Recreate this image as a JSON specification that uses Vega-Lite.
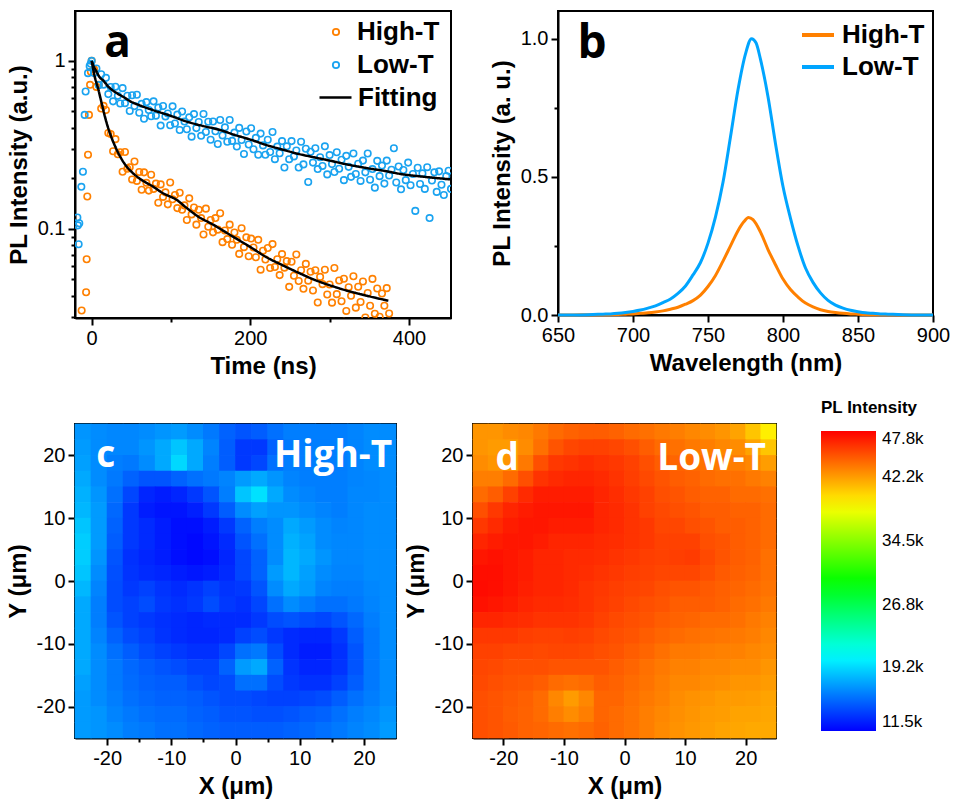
{
"$schema": "https://vega.github.io/schema/vega-lite/v6.json",
"background": "white",
"padding": {"left": 5, "top": 10, "right": 5, "bottom": 5},
"config": {
  "font": "Liberation Sans",
  "view": {"stroke": "black", "strokeWidth": 2},
  "axis": {"domainColor": "black", "domainWidth": 2, "tickColor": "black", "tickWidth": 2, "labelColor": "black", "titleColor": "black", "labelFont": "Liberation Sans", "labelFontSize": 20, "titleFont": "Liberation Sans", "titleFontSize": 24, "titleFontWeight": "bold", "grid": false, "labelPadding": 3, "titlePadding": 6, "labelFlush": false, "labelOverlap": false, "labelBound": false},
  "legend": {"padding": 0, "labelFont": "Liberation Sans", "titleFont": "Liberation Sans", "labelColor": "black", "titleColor": "black"}
},
"datasets": {
"decay": [
{"t":-12.6,"I":0.0327,"trace":"High-T"},{"t":-7,"I":0.042,"trace":"High-T"},{"t":-6.3,"I":0.066,"trace":"High-T"},{"t":-5.5,"I":0.156,"trace":"High-T"},{"t":-4.6,"I":0.276,"trace":"High-T"},{"t":-3.4,"I":0.477,"trace":"High-T"},{"t":-2,"I":0.72,"trace":"High-T"},{"t":-1,"I":0.86,"trace":"High-T"},
{"t":0,"I":1.0,"trace":"High-T"},{"t":3,"I":0.89,"trace":"High-T"},{"t":6,"I":0.70,"trace":"High-T"},{"t":9,"I":0.72,"trace":"High-T"},{"t":12,"I":0.52,"trace":"High-T"},{"t":15,"I":0.54,"trace":"High-T"},{"t":18,"I":0.51,"trace":"High-T"},{"t":21,"I":0.372,"trace":"High-T"},{"t":24,"I":0.367,"trace":"High-T"},{"t":27,"I":0.29,"trace":"High-T"},
{"t":30,"I":0.342,"trace":"High-T"},{"t":33,"I":0.278,"trace":"High-T"},{"t":36,"I":0.286,"trace":"High-T"},{"t":39,"I":0.219,"trace":"High-T"},{"t":42,"I":0.287,"trace":"High-T"},{"t":45,"I":0.228,"trace":"High-T"},{"t":48,"I":0.233,"trace":"High-T"},{"t":51,"I":0.197,"trace":"High-T"},{"t":54,"I":0.252,"trace":"High-T"},{"t":57,"I":0.193,"trace":"High-T"},
{"t":60,"I":0.218,"trace":"High-T"},{"t":63,"I":0.171,"trace":"High-T"},{"t":66,"I":0.217,"trace":"High-T"},{"t":69,"I":0.188,"trace":"High-T"},{"t":72,"I":0.169,"trace":"High-T"},{"t":75,"I":0.21,"trace":"High-T"},{"t":78,"I":0.173,"trace":"High-T"},{"t":81,"I":0.186,"trace":"High-T"},{"t":84,"I":0.143,"trace":"High-T"},{"t":87,"I":0.184,"trace":"High-T"},
{"t":90,"I":0.155,"trace":"High-T"},{"t":93,"I":0.165,"trace":"High-T"},{"t":96,"I":0.14,"trace":"High-T"},{"t":99,"I":0.189,"trace":"High-T"},{"t":102,"I":0.15,"trace":"High-T"},{"t":105,"I":0.159,"trace":"High-T"},{"t":108,"I":0.133,"trace":"High-T"},{"t":111,"I":0.164,"trace":"High-T"},{"t":114,"I":0.13,"trace":"High-T"},{"t":117,"I":0.138,"trace":"High-T"},
{"t":120,"I":0.113,"trace":"High-T"},{"t":123,"I":0.152,"trace":"High-T"},{"t":126,"I":0.122,"trace":"High-T"},{"t":129,"I":0.134,"trace":"High-T"},{"t":132,"I":0.106,"trace":"High-T"},{"t":135,"I":0.13,"trace":"High-T"},{"t":138,"I":0.116,"trace":"High-T"},{"t":141,"I":0.0927,"trace":"High-T"},{"t":144,"I":0.132,"trace":"High-T"},{"t":147,"I":0.103,"trace":"High-T"},
{"t":150,"I":0.113,"trace":"High-T"},{"t":153,"I":0.0954,"trace":"High-T"},{"t":156,"I":0.116,"trace":"High-T"},{"t":159,"I":0.099,"trace":"High-T"},{"t":162,"I":0.124,"trace":"High-T"},{"t":165,"I":0.0834,"trace":"High-T"},{"t":168,"I":0.0979,"trace":"High-T"},{"t":171,"I":0.087,"trace":"High-T"},{"t":174,"I":0.106,"trace":"High-T"},{"t":177,"I":0.0805,"trace":"High-T"},
{"t":180,"I":0.0952,"trace":"High-T"},{"t":183,"I":0.0861,"trace":"High-T"},{"t":186,"I":0.071,"trace":"High-T"},{"t":189,"I":0.101,"trace":"High-T"},{"t":192,"I":0.0779,"trace":"High-T"},{"t":195,"I":0.0891,"trace":"High-T"},{"t":198,"I":0.0687,"trace":"High-T"},{"t":201,"I":0.0876,"trace":"High-T"},{"t":204,"I":0.0775,"trace":"High-T"},{"t":207,"I":0.0678,"trace":"High-T"},
{"t":210,"I":0.0861,"trace":"High-T"},{"t":213,"I":0.0572,"trace":"High-T"},{"t":216,"I":0.0742,"trace":"High-T"},{"t":219,"I":0.0658,"trace":"High-T"},{"t":222,"I":0.077,"trace":"High-T"},{"t":225,"I":0.0585,"trace":"High-T"},{"t":228,"I":0.0812,"trace":"High-T"},{"t":231,"I":0.0593,"trace":"High-T"},{"t":234,"I":0.066,"trace":"High-T"},{"t":237,"I":0.0531,"trace":"High-T"},
{"t":240,"I":0.0708,"trace":"High-T"},{"t":243,"I":0.0588,"trace":"High-T"},{"t":246,"I":0.0643,"trace":"High-T"},{"t":249,"I":0.0452,"trace":"High-T"},{"t":252,"I":0.0638,"trace":"High-T"},{"t":255,"I":0.0526,"trace":"High-T"},{"t":258,"I":0.0704,"trace":"High-T"},{"t":261,"I":0.049,"trace":"High-T"},{"t":264,"I":0.0567,"trace":"High-T"},{"t":267,"I":0.044,"trace":"High-T"},
{"t":270,"I":0.0619,"trace":"High-T"},{"t":273,"I":0.0492,"trace":"High-T"},{"t":276,"I":0.0556,"trace":"High-T"},{"t":279,"I":0.043,"trace":"High-T"},{"t":282,"I":0.0567,"trace":"High-T"},{"t":285,"I":0.0365,"trace":"High-T"},{"t":288,"I":0.0518,"trace":"High-T"},{"t":291,"I":0.0469,"trace":"High-T"},{"t":294,"I":0.0571,"trace":"High-T"},{"t":297,"I":0.0407,"trace":"High-T"},
{"t":300,"I":0.0467,"trace":"High-T"},{"t":303,"I":0.0364,"trace":"High-T"},{"t":306,"I":0.0585,"trace":"High-T"},{"t":309,"I":0.0409,"trace":"High-T"},{"t":312,"I":0.0493,"trace":"High-T"},{"t":315,"I":0.0371,"trace":"High-T"},{"t":318,"I":0.0505,"trace":"High-T"},{"t":321,"I":0.0325,"trace":"High-T"},{"t":324,"I":0.045,"trace":"High-T"},{"t":327,"I":0.04,"trace":"High-T"},
{"t":330,"I":0.0523,"trace":"High-T"},{"t":333,"I":0.034,"trace":"High-T"},{"t":336,"I":0.0453,"trace":"High-T"},{"t":339,"I":0.0367,"trace":"High-T"},{"t":342,"I":0.0486,"trace":"High-T"},{"t":345,"I":0.0297,"trace":"High-T"},{"t":348,"I":0.0416,"trace":"High-T"},{"t":351,"I":0.0349,"trace":"High-T"},{"t":354,"I":0.0504,"trace":"High-T"},{"t":357,"I":0.0313,"trace":"High-T"},
{"t":360,"I":0.0442,"trace":"High-T"},{"t":363,"I":0.03,"trace":"High-T"},{"t":366,"I":0.0413,"trace":"High-T"},{"t":369,"I":0.0349,"trace":"High-T"},{"t":372,"I":0.0444,"trace":"High-T"},{"t":375,"I":0.0314,"trace":"High-T"},
{"t":318,"I":0.028,"trace":"High-T"},{"t":331,"I":0.027,"trace":"High-T"},{"t":350,"I":0.028,"trace":"High-T"},{"t":365,"I":0.027,"trace":"High-T"},
{"t":-18,"I":0.117,"trace":"Low-T"},{"t":-17.3,"I":0.105,"trace":"Low-T"},{"t":-16.4,"I":0.081,"trace":"Low-T"},{"t":-15.6,"I":0.108,"trace":"Low-T"},{"t":-13,"I":0.178,"trace":"Low-T"},{"t":-11,"I":0.219,"trace":"Low-T"},{"t":-8.8,"I":0.477,"trace":"Low-T"},{"t":-7.6,"I":0.657,"trace":"Low-T"},{"t":-4.6,"I":0.845,"trace":"Low-T"},{"t":-2.5,"I":0.93,"trace":"Low-T"},{"t":-1.2,"I":0.96,"trace":"Low-T"},
{"t":0,"I":1.0,"trace":"Low-T"},{"t":3,"I":0.846,"trace":"Low-T"},{"t":6,"I":0.9,"trace":"Low-T"},{"t":9,"I":0.717,"trace":"Low-T"},{"t":12,"I":0.832,"trace":"Low-T"},{"t":15,"I":0.722,"trace":"Low-T"},{"t":18,"I":0.792,"trace":"Low-T"},{"t":21,"I":0.634,"trace":"Low-T"},{"t":24,"I":0.699,"trace":"Low-T"},{"t":27,"I":0.574,"trace":"Low-T"},
{"t":30,"I":0.702,"trace":"Low-T"},{"t":33,"I":0.619,"trace":"Low-T"},{"t":36,"I":0.557,"trace":"Low-T"},{"t":39,"I":0.688,"trace":"Low-T"},{"t":42,"I":0.56,"trace":"Low-T"},{"t":45,"I":0.62,"trace":"Low-T"},{"t":48,"I":0.503,"trace":"Low-T"},{"t":51,"I":0.624,"trace":"Low-T"},{"t":54,"I":0.538,"trace":"Low-T"},{"t":57,"I":0.629,"trace":"Low-T"},
{"t":60,"I":0.491,"trace":"Low-T"},{"t":63,"I":0.555,"trace":"Low-T"},{"t":66,"I":0.452,"trace":"Low-T"},{"t":69,"I":0.568,"trace":"Low-T"},{"t":72,"I":0.51,"trace":"Low-T"},{"t":75,"I":0.468,"trace":"Low-T"},{"t":78,"I":0.574,"trace":"Low-T"},{"t":81,"I":0.472,"trace":"Low-T"},{"t":84,"I":0.527,"trace":"Low-T"},{"t":87,"I":0.412,"trace":"Low-T"},
{"t":90,"I":0.539,"trace":"Low-T"},{"t":93,"I":0.467,"trace":"Low-T"},{"t":96,"I":0.486,"trace":"Low-T"},{"t":99,"I":0.414,"trace":"Low-T"},{"t":102,"I":0.536,"trace":"Low-T"},{"t":105,"I":0.424,"trace":"Low-T"},{"t":108,"I":0.479,"trace":"Low-T"},{"t":111,"I":0.388,"trace":"Low-T"},{"t":114,"I":0.5,"trace":"Low-T"},{"t":117,"I":0.436,"trace":"Low-T"},
{"t":120,"I":0.392,"trace":"Low-T"},{"t":123,"I":0.461,"trace":"Low-T"},{"t":126,"I":0.354,"trace":"Low-T"},{"t":129,"I":0.482,"trace":"Low-T"},{"t":132,"I":0.398,"trace":"Low-T"},{"t":135,"I":0.433,"trace":"Low-T"},{"t":138,"I":0.358,"trace":"Low-T"},{"t":141,"I":0.483,"trace":"Low-T"},{"t":144,"I":0.377,"trace":"Low-T"},{"t":147,"I":0.434,"trace":"Low-T"},
{"t":150,"I":0.339,"trace":"Low-T"},{"t":153,"I":0.436,"trace":"Low-T"},{"t":156,"I":0.381,"trace":"Low-T"},{"t":159,"I":0.32,"trace":"Low-T"},{"t":162,"I":0.445,"trace":"Low-T"},{"t":165,"I":0.36,"trace":"Low-T"},{"t":168,"I":0.402,"trace":"Low-T"},{"t":171,"I":0.33,"trace":"Low-T"},{"t":174,"I":0.445,"trace":"Low-T"},{"t":177,"I":0.334,"trace":"Low-T"},
{"t":180,"I":0.374,"trace":"Low-T"},{"t":183,"I":0.309,"trace":"Low-T"},{"t":186,"I":0.399,"trace":"Low-T"},{"t":189,"I":0.338,"trace":"Low-T"},{"t":192,"I":0.279,"trace":"Low-T"},{"t":195,"I":0.38,"trace":"Low-T"},{"t":198,"I":0.318,"trace":"Low-T"},{"t":201,"I":0.397,"trace":"Low-T"},{"t":204,"I":0.298,"trace":"Low-T"},{"t":207,"I":0.348,"trace":"Low-T"},
{"t":210,"I":0.276,"trace":"Low-T"},{"t":213,"I":0.369,"trace":"Low-T"},{"t":216,"I":0.314,"trace":"Low-T"},{"t":219,"I":0.276,"trace":"Low-T"},{"t":222,"I":0.339,"trace":"Low-T"},{"t":225,"I":0.287,"trace":"Low-T"},{"t":228,"I":0.377,"trace":"Low-T"},{"t":231,"I":0.26,"trace":"Low-T"},{"t":234,"I":0.309,"trace":"Low-T"},{"t":237,"I":0.282,"trace":"Low-T"},
{"t":240,"I":0.333,"trace":"Low-T"},{"t":243,"I":0.232,"trace":"Low-T"},{"t":246,"I":0.31,"trace":"Low-T"},{"t":249,"I":0.26,"trace":"Low-T"},{"t":252,"I":0.333,"trace":"Low-T"},{"t":255,"I":0.27,"trace":"Low-T"},{"t":258,"I":0.293,"trace":"Low-T"},{"t":261,"I":0.232,"trace":"Low-T"},{"t":264,"I":0.33,"trace":"Low-T"},{"t":267,"I":0.242,"trace":"Low-T"},
{"t":270,"I":0.3,"trace":"Low-T"},{"t":273,"I":0.19,"trace":"Low-T"},{"t":276,"I":0.288,"trace":"Low-T"},{"t":279,"I":0.248,"trace":"Low-T"},{"t":282,"I":0.302,"trace":"Low-T"},{"t":285,"I":0.227,"trace":"Low-T"},{"t":288,"I":0.267,"trace":"Low-T"},{"t":291,"I":0.237,"trace":"Low-T"},{"t":294,"I":0.31,"trace":"Low-T"},{"t":297,"I":0.211,"trace":"Low-T"},
{"t":300,"I":0.275,"trace":"Low-T"},{"t":303,"I":0.243,"trace":"Low-T"},{"t":306,"I":0.218,"trace":"Low-T"},{"t":309,"I":0.286,"trace":"Low-T"},{"t":312,"I":0.228,"trace":"Low-T"},{"t":315,"I":0.258,"trace":"Low-T"},{"t":318,"I":0.195,"trace":"Low-T"},{"t":321,"I":0.272,"trace":"Low-T"},{"t":324,"I":0.234,"trace":"Low-T"},{"t":327,"I":0.204,"trace":"Low-T"},
{"t":330,"I":0.281,"trace":"Low-T"},{"t":333,"I":0.212,"trace":"Low-T"},{"t":336,"I":0.244,"trace":"Low-T"},{"t":339,"I":0.193,"trace":"Low-T"},{"t":342,"I":0.255,"trace":"Low-T"},{"t":345,"I":0.217,"trace":"Low-T"},{"t":348,"I":0.281,"trace":"Low-T"},{"t":351,"I":0.196,"trace":"Low-T"},{"t":354,"I":0.227,"trace":"Low-T"},{"t":357,"I":0.176,"trace":"Low-T"},
{"t":360,"I":0.254,"trace":"Low-T"},{"t":363,"I":0.206,"trace":"Low-T"},{"t":366,"I":0.238,"trace":"Low-T"},{"t":369,"I":0.186,"trace":"Low-T"},{"t":372,"I":0.255,"trace":"Low-T"},{"t":375,"I":0.208,"trace":"Low-T"},{"t":378,"I":0.225,"trace":"Low-T"},{"t":381,"I":0.302,"trace":"Low-T"},{"t":384,"I":0.189,"trace":"Low-T"},{"t":387,"I":0.235,"trace":"Low-T"},
{"t":390,"I":0.172,"trace":"Low-T"},{"t":393,"I":0.224,"trace":"Low-T"},{"t":396,"I":0.195,"trace":"Low-T"},{"t":399,"I":0.248,"trace":"Low-T"},{"t":402,"I":0.182,"trace":"Low-T"},{"t":405,"I":0.212,"trace":"Low-T"},{"t":408,"I":0.128,"trace":"Low-T"},{"t":411,"I":0.231,"trace":"Low-T"},{"t":414,"I":0.185,"trace":"Low-T"},{"t":417,"I":0.214,"trace":"Low-T"},
{"t":420,"I":0.173,"trace":"Low-T"},{"t":423,"I":0.233,"trace":"Low-T"},{"t":426,"I":0.116,"trace":"Low-T"},{"t":429,"I":0.194,"trace":"Low-T"},{"t":432,"I":0.217,"trace":"Low-T"},{"t":435,"I":0.166,"trace":"Low-T"},{"t":438,"I":0.22,"trace":"Low-T"},{"t":441,"I":0.183,"trace":"Low-T"},{"t":444,"I":0.159,"trace":"Low-T"},{"t":447,"I":0.206,"trace":"Low-T"},
{"t":450,"I":0.222,"trace":"Low-T"},{"t":453,"I":0.173,"trace":"Low-T"}
],
"fit": [
{"t":0,"I":1.0,"trace":"Fitting","curve":"H"},{"t":2,"I":0.89,"trace":"Fitting","curve":"H"},{"t":4,"I":0.8,"trace":"Fitting","curve":"H"},{"t":6,"I":0.74,"trace":"Fitting","curve":"H"},{"t":8,"I":0.69,"trace":"Fitting","curve":"H"},{"t":10,"I":0.63,"trace":"Fitting","curve":"H"},{"t":13,"I":0.55,"trace":"Fitting","curve":"H"},{"t":16,"I":0.48,"trace":"Fitting","curve":"H"},{"t":20,"I":0.41,"trace":"Fitting","curve":"H"},{"t":25,"I":0.35,"trace":"Fitting","curve":"H"},{"t":31,"I":0.30,"trace":"Fitting","curve":"H"},{"t":40,"I":0.25,"trace":"Fitting","curve":"H"},{"t":48,"I":0.224,"trace":"Fitting","curve":"H"},{"t":60,"I":0.2,"trace":"Fitting","curve":"H"},{"t":77,"I":0.179,"trace":"Fitting","curve":"H"},{"t":90,"I":0.163,"trace":"Fitting","curve":"H"},{"t":107,"I":0.149,"trace":"Fitting","curve":"H"},{"t":120,"I":0.133,"trace":"Fitting","curve":"H"},{"t":136,"I":0.117,"trace":"Fitting","curve":"H"},{"t":150,"I":0.108,"trace":"Fitting","curve":"H"},{"t":178,"I":0.09,"trace":"Fitting","curve":"H"},{"t":200,"I":0.078,"trace":"Fitting","curve":"H"},{"t":220,"I":0.068,"trace":"Fitting","curve":"H"},{"t":240,"I":0.061,"trace":"Fitting","curve":"H"},{"t":262,"I":0.0545,"trace":"Fitting","curve":"H"},{"t":280,"I":0.05,"trace":"Fitting","curve":"H"},{"t":305,"I":0.0454,"trace":"Fitting","curve":"H"},{"t":325,"I":0.0425,"trace":"Fitting","curve":"H"},{"t":347,"I":0.04,"trace":"Fitting","curve":"H"},{"t":374,"I":0.0374,"trace":"Fitting","curve":"H"},
{"t":0,"I":1.0,"trace":"Fitting","curve":"L"},{"t":3,"I":0.92,"trace":"Fitting","curve":"L"},{"t":6,"I":0.865,"trace":"Fitting","curve":"L"},{"t":10,"I":0.80,"trace":"Fitting","curve":"L"},{"t":15,"I":0.76,"trace":"Fitting","curve":"L"},{"t":20,"I":0.71,"trace":"Fitting","curve":"L"},{"t":30,"I":0.65,"trace":"Fitting","curve":"L"},{"t":40,"I":0.61,"trace":"Fitting","curve":"L"},{"t":50,"I":0.57,"trace":"Fitting","curve":"L"},{"t":60,"I":0.545,"trace":"Fitting","curve":"L"},{"t":77,"I":0.51,"trace":"Fitting","curve":"L"},{"t":100,"I":0.47,"trace":"Fitting","curve":"L"},{"t":120,"I":0.435,"trace":"Fitting","curve":"L"},{"t":140,"I":0.41,"trace":"Fitting","curve":"L"},{"t":160,"I":0.39,"trace":"Fitting","curve":"L"},{"t":180,"I":0.363,"trace":"Fitting","curve":"L"},{"t":200,"I":0.34,"trace":"Fitting","curve":"L"},{"t":220,"I":0.316,"trace":"Fitting","curve":"L"},{"t":240,"I":0.297,"trace":"Fitting","curve":"L"},{"t":260,"I":0.28,"trace":"Fitting","curve":"L"},{"t":280,"I":0.267,"trace":"Fitting","curve":"L"},{"t":300,"I":0.255,"trace":"Fitting","curve":"L"},{"t":320,"I":0.243,"trace":"Fitting","curve":"L"},{"t":347,"I":0.23,"trace":"Fitting","curve":"L"},{"t":370,"I":0.221,"trace":"Fitting","curve":"L"},{"t":390,"I":0.212,"trace":"Fitting","curve":"L"},{"t":420,"I":0.204,"trace":"Fitting","curve":"L"},{"t":453,"I":0.197,"trace":"Fitting","curve":"L"}
],
"spec": [
{"nm":650,"PL":0,"sample":"High-T"},{"nm":660,"PL":0,"sample":"High-T"},{"nm":670,"PL":0.001,"sample":"High-T"},{"nm":680,"PL":0.001,"sample":"High-T"},{"nm":690,"PL":0.002,"sample":"High-T"},{"nm":695,"PL":0.003,"sample":"High-T"},{"nm":700,"PL":0.004,"sample":"High-T"},{"nm":705,"PL":0.006,"sample":"High-T"},{"nm":710,"PL":0.008,"sample":"High-T"},{"nm":715,"PL":0.011,"sample":"High-T"},{"nm":720,"PL":0.015,"sample":"High-T"},{"nm":725,"PL":0.021,"sample":"High-T"},{"nm":730,"PL":0.028,"sample":"High-T"},{"nm":735,"PL":0.039,"sample":"High-T"},{"nm":740,"PL":0.052,"sample":"High-T"},{"nm":745,"PL":0.072,"sample":"High-T"},{"nm":750,"PL":0.103,"sample":"High-T"},{"nm":755,"PL":0.143,"sample":"High-T"},{"nm":760,"PL":0.195,"sample":"High-T"},{"nm":765,"PL":0.25,"sample":"High-T"},{"nm":770,"PL":0.305,"sample":"High-T"},{"nm":774,"PL":0.338,"sample":"High-T"},{"nm":777,"PL":0.353,"sample":"High-T"},{"nm":780,"PL":0.345,"sample":"High-T"},{"nm":785,"PL":0.3,"sample":"High-T"},{"nm":790,"PL":0.237,"sample":"High-T"},{"nm":795,"PL":0.182,"sample":"High-T"},{"nm":800,"PL":0.13,"sample":"High-T"},{"nm":805,"PL":0.092,"sample":"High-T"},{"nm":810,"PL":0.065,"sample":"High-T"},{"nm":815,"PL":0.043,"sample":"High-T"},{"nm":820,"PL":0.029,"sample":"High-T"},{"nm":825,"PL":0.019,"sample":"High-T"},{"nm":830,"PL":0.013,"sample":"High-T"},{"nm":835,"PL":0.009,"sample":"High-T"},{"nm":840,"PL":0.006,"sample":"High-T"},{"nm":845,"PL":0.004,"sample":"High-T"},{"nm":850,"PL":0.003,"sample":"High-T"},{"nm":860,"PL":0.001,"sample":"High-T"},{"nm":870,"PL":0.001,"sample":"High-T"},{"nm":880,"PL":0,"sample":"High-T"},{"nm":890,"PL":0,"sample":"High-T"},{"nm":900,"PL":0,"sample":"High-T"},
{"nm":650,"PL":0,"sample":"Low-T"},{"nm":660,"PL":0,"sample":"Low-T"},{"nm":670,"PL":0.001,"sample":"Low-T"},{"nm":680,"PL":0.003,"sample":"Low-T"},{"nm":685,"PL":0.004,"sample":"Low-T"},{"nm":690,"PL":0.006,"sample":"Low-T"},{"nm":695,"PL":0.009,"sample":"Low-T"},{"nm":700,"PL":0.013,"sample":"Low-T"},{"nm":705,"PL":0.018,"sample":"Low-T"},{"nm":710,"PL":0.025,"sample":"Low-T"},{"nm":715,"PL":0.033,"sample":"Low-T"},{"nm":720,"PL":0.045,"sample":"Low-T"},{"nm":725,"PL":0.058,"sample":"Low-T"},{"nm":730,"PL":0.078,"sample":"Low-T"},{"nm":735,"PL":0.105,"sample":"Low-T"},{"nm":740,"PL":0.145,"sample":"Low-T"},{"nm":745,"PL":0.19,"sample":"Low-T"},{"nm":750,"PL":0.26,"sample":"Low-T"},{"nm":755,"PL":0.355,"sample":"Low-T"},{"nm":760,"PL":0.48,"sample":"Low-T"},{"nm":765,"PL":0.645,"sample":"Low-T"},{"nm":770,"PL":0.815,"sample":"Low-T"},{"nm":775,"PL":0.945,"sample":"Low-T"},{"nm":779,"PL":1.0,"sample":"Low-T"},{"nm":782,"PL":0.985,"sample":"Low-T"},{"nm":785,"PL":0.925,"sample":"Low-T"},{"nm":790,"PL":0.79,"sample":"Low-T"},{"nm":795,"PL":0.62,"sample":"Low-T"},{"nm":800,"PL":0.465,"sample":"Low-T"},{"nm":805,"PL":0.35,"sample":"Low-T"},{"nm":810,"PL":0.25,"sample":"Low-T"},{"nm":815,"PL":0.17,"sample":"Low-T"},{"nm":820,"PL":0.118,"sample":"Low-T"},{"nm":825,"PL":0.08,"sample":"Low-T"},{"nm":830,"PL":0.053,"sample":"Low-T"},{"nm":835,"PL":0.036,"sample":"Low-T"},{"nm":840,"PL":0.025,"sample":"Low-T"},{"nm":845,"PL":0.017,"sample":"Low-T"},{"nm":850,"PL":0.012,"sample":"Low-T"},{"nm":855,"PL":0.008,"sample":"Low-T"},{"nm":860,"PL":0.006,"sample":"Low-T"},{"nm":865,"PL":0.004,"sample":"Low-T"},{"nm":870,"PL":0.003,"sample":"Low-T"},{"nm":880,"PL":0.001,"sample":"Low-T"},{"nm":890,"PL":0,"sample":"Low-T"},{"nm":900,"PL":0,"sample":"Low-T"}
],
"mapHigh": [
{"x":-23.75,"y":23.75,"v":16.8},{"x":-21.25,"y":23.75,"v":16.5},{"x":-18.75,"y":23.75,"v":16.3},{"x":-16.25,"y":23.75,"v":16.3},{"x":-13.75,"y":23.75,"v":16.5},{"x":-11.25,"y":23.75,"v":16.8},{"x":-8.75,"y":23.75,"v":17.0},{"x":-6.25,"y":23.75,"v":16.5},{"x":-3.75,"y":23.75,"v":15.8},{"x":-1.25,"y":23.75,"v":15.0},{"x":1.25,"y":23.75,"v":14.5},{"x":3.75,"y":23.75,"v":14.8},{"x":6.25,"y":23.75,"v":15.5},{"x":8.75,"y":23.75,"v":16.0},{"x":11.25,"y":23.75,"v":16.0},{"x":13.75,"y":23.75,"v":16.0},{"x":16.25,"y":23.75,"v":16.0},{"x":18.75,"y":23.75,"v":16.2},{"x":21.25,"y":23.75,"v":16.5},{"x":23.75,"y":23.75,"v":16.5},
{"x":-23.75,"y":21.25,"v":17.0},{"x":-21.25,"y":21.25,"v":16.5},{"x":-18.75,"y":21.25,"v":16.3},{"x":-16.25,"y":21.25,"v":16.3},{"x":-13.75,"y":21.25,"v":16.8},{"x":-11.25,"y":21.25,"v":17.5},{"x":-8.75,"y":21.25,"v":18.5},{"x":-6.25,"y":21.25,"v":17.5},{"x":-3.75,"y":21.25,"v":16.2},{"x":-1.25,"y":21.25,"v":14.8},{"x":1.25,"y":21.25,"v":13.5},{"x":3.75,"y":21.25,"v":13.5},{"x":6.25,"y":21.25,"v":15.0},{"x":8.75,"y":21.25,"v":15.8},{"x":11.25,"y":21.25,"v":16.0},{"x":13.75,"y":21.25,"v":16.0},{"x":16.25,"y":21.25,"v":16.0},{"x":18.75,"y":21.25,"v":16.2},{"x":21.25,"y":21.25,"v":16.5},{"x":23.75,"y":21.25,"v":16.5},
{"x":-23.75,"y":18.75,"v":17.2},{"x":-21.25,"y":18.75,"v":16.5},{"x":-18.75,"y":18.75,"v":16.0},{"x":-16.25,"y":18.75,"v":15.8},{"x":-13.75,"y":18.75,"v":16.5},{"x":-11.25,"y":18.75,"v":17.5},{"x":-8.75,"y":18.75,"v":19.2},{"x":-6.25,"y":18.75,"v":17.5},{"x":-3.75,"y":18.75,"v":16.0},{"x":-1.25,"y":18.75,"v":14.8},{"x":1.25,"y":18.75,"v":13.5},{"x":3.75,"y":18.75,"v":14.0},{"x":6.25,"y":18.75,"v":15.5},{"x":8.75,"y":18.75,"v":16.0},{"x":11.25,"y":18.75,"v":16.0},{"x":13.75,"y":18.75,"v":16.0},{"x":16.25,"y":18.75,"v":16.0},{"x":18.75,"y":18.75,"v":16.2},{"x":21.25,"y":18.75,"v":16.5},{"x":23.75,"y":18.75,"v":16.5},
{"x":-23.75,"y":16.25,"v":17.5},{"x":-21.25,"y":16.25,"v":16.5},{"x":-18.75,"y":16.25,"v":15.8},{"x":-16.25,"y":16.25,"v":15.0},{"x":-13.75,"y":16.25,"v":14.5},{"x":-11.25,"y":16.25,"v":14.5},{"x":-8.75,"y":16.25,"v":15.0},{"x":-6.25,"y":16.25,"v":15.5},{"x":-3.75,"y":16.25,"v":15.8},{"x":-1.25,"y":16.25,"v":16.2},{"x":1.25,"y":16.25,"v":17.0},{"x":3.75,"y":16.25,"v":17.5},{"x":6.25,"y":16.25,"v":16.8},{"x":8.75,"y":16.25,"v":16.2},{"x":11.25,"y":16.25,"v":16.0},{"x":13.75,"y":16.25,"v":16.0},{"x":16.25,"y":16.25,"v":16.0},{"x":18.75,"y":16.25,"v":16.2},{"x":21.25,"y":16.25,"v":16.3},{"x":23.75,"y":16.25,"v":16.5},
{"x":-23.75,"y":13.75,"v":17.8},{"x":-21.25,"y":13.75,"v":16.8},{"x":-18.75,"y":13.75,"v":15.5},{"x":-16.25,"y":13.75,"v":14.0},{"x":-13.75,"y":13.75,"v":12.8},{"x":-11.25,"y":13.75,"v":12.5},{"x":-8.75,"y":13.75,"v":12.8},{"x":-6.25,"y":13.75,"v":13.5},{"x":-3.75,"y":13.75,"v":14.5},{"x":-1.25,"y":13.75,"v":16.0},{"x":1.25,"y":13.75,"v":18.5},{"x":3.75,"y":13.75,"v":19.5},{"x":6.25,"y":13.75,"v":17.5},{"x":8.75,"y":13.75,"v":16.5},{"x":11.25,"y":13.75,"v":16.2},{"x":13.75,"y":13.75,"v":16.0},{"x":16.25,"y":13.75,"v":16.0},{"x":18.75,"y":13.75,"v":16.3},{"x":21.25,"y":13.75,"v":16.3},{"x":23.75,"y":13.75,"v":16.5},
{"x":-23.75,"y":11.25,"v":18.0},{"x":-21.25,"y":11.25,"v":17.0},{"x":-18.75,"y":11.25,"v":15.2},{"x":-16.25,"y":11.25,"v":13.5},{"x":-13.75,"y":11.25,"v":12.5},{"x":-11.25,"y":11.25,"v":12.2},{"x":-8.75,"y":11.25,"v":12.2},{"x":-6.25,"y":11.25,"v":12.6},{"x":-3.75,"y":11.25,"v":13.5},{"x":-1.25,"y":11.25,"v":14.8},{"x":1.25,"y":11.25,"v":16.5},{"x":3.75,"y":11.25,"v":17.2},{"x":6.25,"y":11.25,"v":16.8},{"x":8.75,"y":11.25,"v":16.8},{"x":11.25,"y":11.25,"v":16.5},{"x":13.75,"y":11.25,"v":16.2},{"x":16.25,"y":11.25,"v":16.0},{"x":18.75,"y":11.25,"v":16.3},{"x":21.25,"y":11.25,"v":16.5},{"x":23.75,"y":11.25,"v":16.5},
{"x":-23.75,"y":8.75,"v":18.5},{"x":-21.25,"y":8.75,"v":17.0},{"x":-18.75,"y":8.75,"v":15.0},{"x":-16.25,"y":8.75,"v":13.5},{"x":-13.75,"y":8.75,"v":13.0},{"x":-11.25,"y":8.75,"v":12.5},{"x":-8.75,"y":8.75,"v":12.0},{"x":-6.25,"y":8.75,"v":12.0},{"x":-3.75,"y":8.75,"v":12.5},{"x":-1.25,"y":8.75,"v":13.5},{"x":1.25,"y":8.75,"v":15.0},{"x":3.75,"y":8.75,"v":16.0},{"x":6.25,"y":8.75,"v":16.5},{"x":8.75,"y":8.75,"v":17.5},{"x":11.25,"y":8.75,"v":17.0},{"x":13.75,"y":8.75,"v":16.5},{"x":16.25,"y":8.75,"v":16.2},{"x":18.75,"y":8.75,"v":16.3},{"x":21.25,"y":8.75,"v":16.5},{"x":23.75,"y":8.75,"v":16.5},
{"x":-23.75,"y":6.25,"v":18.8},{"x":-21.25,"y":6.25,"v":17.0},{"x":-18.75,"y":6.25,"v":14.8},{"x":-16.25,"y":6.25,"v":13.5},{"x":-13.75,"y":6.25,"v":13.0},{"x":-11.25,"y":6.25,"v":12.5},{"x":-8.75,"y":6.25,"v":12.0},{"x":-6.25,"y":6.25,"v":11.8},{"x":-3.75,"y":6.25,"v":12.2},{"x":-1.25,"y":6.25,"v":13.0},{"x":1.25,"y":6.25,"v":14.5},{"x":3.75,"y":6.25,"v":15.5},{"x":6.25,"y":6.25,"v":16.5},{"x":8.75,"y":6.25,"v":17.8},{"x":11.25,"y":6.25,"v":17.3},{"x":13.75,"y":6.25,"v":16.5},{"x":16.25,"y":6.25,"v":16.3},{"x":18.75,"y":6.25,"v":16.3},{"x":21.25,"y":6.25,"v":16.5},{"x":23.75,"y":6.25,"v":16.5},
{"x":-23.75,"y":3.75,"v":18.8},{"x":-21.25,"y":3.75,"v":16.8},{"x":-18.75,"y":3.75,"v":14.5},{"x":-16.25,"y":3.75,"v":13.2},{"x":-13.75,"y":3.75,"v":12.8},{"x":-11.25,"y":3.75,"v":12.5},{"x":-8.75,"y":3.75,"v":12.0},{"x":-6.25,"y":3.75,"v":11.8},{"x":-3.75,"y":3.75,"v":12.0},{"x":-1.25,"y":3.75,"v":12.8},{"x":1.25,"y":3.75,"v":14.0},{"x":3.75,"y":3.75,"v":15.0},{"x":6.25,"y":3.75,"v":16.5},{"x":8.75,"y":3.75,"v":18.0},{"x":11.25,"y":3.75,"v":17.5},{"x":13.75,"y":3.75,"v":16.8},{"x":16.25,"y":3.75,"v":16.3},{"x":18.75,"y":3.75,"v":16.3},{"x":21.25,"y":3.75,"v":16.5},{"x":23.75,"y":3.75,"v":16.5},
{"x":-23.75,"y":1.25,"v":18.5},{"x":-21.25,"y":1.25,"v":16.5},{"x":-18.75,"y":1.25,"v":14.3},{"x":-16.25,"y":1.25,"v":13.3},{"x":-13.75,"y":1.25,"v":13.0},{"x":-11.25,"y":1.25,"v":12.8},{"x":-8.75,"y":1.25,"v":12.5},{"x":-6.25,"y":1.25,"v":12.3},{"x":-3.75,"y":1.25,"v":12.5},{"x":-1.25,"y":1.25,"v":13.0},{"x":1.25,"y":1.25,"v":14.0},{"x":3.75,"y":1.25,"v":15.0},{"x":6.25,"y":1.25,"v":17.0},{"x":8.75,"y":1.25,"v":18.0},{"x":11.25,"y":1.25,"v":17.2},{"x":13.75,"y":1.25,"v":16.5},{"x":16.25,"y":1.25,"v":16.2},{"x":18.75,"y":1.25,"v":16.2},{"x":21.25,"y":1.25,"v":16.5},{"x":23.75,"y":1.25,"v":16.5},
{"x":-23.75,"y":-1.25,"v":18.0},{"x":-21.25,"y":-1.25,"v":16.2},{"x":-18.75,"y":-1.25,"v":14.2},{"x":-16.25,"y":-1.25,"v":13.5},{"x":-13.75,"y":-1.25,"v":13.8},{"x":-11.25,"y":-1.25,"v":13.3},{"x":-8.75,"y":-1.25,"v":13.0},{"x":-6.25,"y":-1.25,"v":13.3},{"x":-3.75,"y":-1.25,"v":13.8},{"x":-1.25,"y":-1.25,"v":13.3},{"x":1.25,"y":-1.25,"v":13.5},{"x":3.75,"y":-1.25,"v":14.5},{"x":6.25,"y":-1.25,"v":16.5},{"x":8.75,"y":-1.25,"v":17.5},{"x":11.25,"y":-1.25,"v":17.0},{"x":13.75,"y":-1.25,"v":16.2},{"x":16.25,"y":-1.25,"v":16.0},{"x":18.75,"y":-1.25,"v":16.0},{"x":21.25,"y":-1.25,"v":16.3},{"x":23.75,"y":-1.25,"v":16.5},
{"x":-23.75,"y":-3.75,"v":17.5},{"x":-21.25,"y":-3.75,"v":16.0},{"x":-18.75,"y":-3.75,"v":14.2},{"x":-16.25,"y":-3.75,"v":13.8},{"x":-13.75,"y":-3.75,"v":14.2},{"x":-11.25,"y":-3.75,"v":13.5},{"x":-8.75,"y":-3.75,"v":13.2},{"x":-6.25,"y":-3.75,"v":13.5},{"x":-3.75,"y":-3.75,"v":14.2},{"x":-1.25,"y":-3.75,"v":13.5},{"x":1.25,"y":-3.75,"v":13.2},{"x":3.75,"y":-3.75,"v":14.0},{"x":6.25,"y":-3.75,"v":15.5},{"x":8.75,"y":-3.75,"v":16.5},{"x":11.25,"y":-3.75,"v":16.0},{"x":13.75,"y":-3.75,"v":15.5},{"x":16.25,"y":-3.75,"v":15.5},{"x":18.75,"y":-3.75,"v":15.8},{"x":21.25,"y":-3.75,"v":16.2},{"x":23.75,"y":-3.75,"v":16.5},
{"x":-23.75,"y":-6.25,"v":17.5},{"x":-21.25,"y":-6.25,"v":16.0},{"x":-18.75,"y":-6.25,"v":14.5},{"x":-16.25,"y":-6.25,"v":13.8},{"x":-13.75,"y":-6.25,"v":13.5},{"x":-11.25,"y":-6.25,"v":13.2},{"x":-8.75,"y":-6.25,"v":13.0},{"x":-6.25,"y":-6.25,"v":12.8},{"x":-3.75,"y":-6.25,"v":13.0},{"x":-1.25,"y":-6.25,"v":13.0},{"x":1.25,"y":-6.25,"v":13.0},{"x":3.75,"y":-6.25,"v":13.5},{"x":6.25,"y":-6.25,"v":14.2},{"x":8.75,"y":-6.25,"v":14.5},{"x":11.25,"y":-6.25,"v":14.2},{"x":13.75,"y":-6.25,"v":14.0},{"x":16.25,"y":-6.25,"v":14.5},{"x":18.75,"y":-6.25,"v":15.2},{"x":21.25,"y":-6.25,"v":16.0},{"x":23.75,"y":-6.25,"v":16.5},
{"x":-23.75,"y":-8.75,"v":17.5},{"x":-21.25,"y":-8.75,"v":16.2},{"x":-18.75,"y":-8.75,"v":15.0},{"x":-16.25,"y":-8.75,"v":14.2},{"x":-13.75,"y":-8.75,"v":13.8},{"x":-11.25,"y":-8.75,"v":13.3},{"x":-8.75,"y":-8.75,"v":13.0},{"x":-6.25,"y":-8.75,"v":12.8},{"x":-3.75,"y":-8.75,"v":12.8},{"x":-1.25,"y":-8.75,"v":13.0},{"x":1.25,"y":-8.75,"v":13.8},{"x":3.75,"y":-8.75,"v":14.2},{"x":6.25,"y":-8.75,"v":13.5},{"x":8.75,"y":-8.75,"v":13.0},{"x":11.25,"y":-8.75,"v":12.8},{"x":13.75,"y":-8.75,"v":12.8},{"x":16.25,"y":-8.75,"v":13.5},{"x":18.75,"y":-8.75,"v":14.8},{"x":21.25,"y":-8.75,"v":15.8},{"x":23.75,"y":-8.75,"v":16.5},
{"x":-23.75,"y":-11.25,"v":17.5},{"x":-21.25,"y":-11.25,"v":16.5},{"x":-18.75,"y":-11.25,"v":15.5},{"x":-16.25,"y":-11.25,"v":14.8},{"x":-13.75,"y":-11.25,"v":14.2},{"x":-11.25,"y":-11.25,"v":13.8},{"x":-8.75,"y":-11.25,"v":13.5},{"x":-6.25,"y":-11.25,"v":13.2},{"x":-3.75,"y":-11.25,"v":13.2},{"x":-1.25,"y":-11.25,"v":14.0},{"x":1.25,"y":-11.25,"v":15.5},{"x":3.75,"y":-11.25,"v":15.8},{"x":6.25,"y":-11.25,"v":14.2},{"x":8.75,"y":-11.25,"v":13.0},{"x":11.25,"y":-11.25,"v":12.5},{"x":13.75,"y":-11.25,"v":12.5},{"x":16.25,"y":-11.25,"v":13.2},{"x":18.75,"y":-11.25,"v":14.5},{"x":21.25,"y":-11.25,"v":15.8},{"x":23.75,"y":-11.25,"v":16.5},
{"x":-23.75,"y":-13.75,"v":17.5},{"x":-21.25,"y":-13.75,"v":16.5},{"x":-18.75,"y":-13.75,"v":15.8},{"x":-16.25,"y":-13.75,"v":15.2},{"x":-13.75,"y":-13.75,"v":14.8},{"x":-11.25,"y":-13.75,"v":14.5},{"x":-8.75,"y":-13.75,"v":14.2},{"x":-6.25,"y":-13.75,"v":13.8},{"x":-3.75,"y":-13.75,"v":13.8},{"x":-1.25,"y":-13.75,"v":15.0},{"x":1.25,"y":-13.75,"v":17.0},{"x":3.75,"y":-13.75,"v":17.5},{"x":6.25,"y":-13.75,"v":15.0},{"x":8.75,"y":-13.75,"v":13.3},{"x":11.25,"y":-13.75,"v":12.8},{"x":13.75,"y":-13.75,"v":12.8},{"x":16.25,"y":-13.75,"v":13.3},{"x":18.75,"y":-13.75,"v":14.5},{"x":21.25,"y":-13.75,"v":15.8},{"x":23.75,"y":-13.75,"v":16.5},
{"x":-23.75,"y":-16.25,"v":17.2},{"x":-21.25,"y":-16.25,"v":16.5},{"x":-18.75,"y":-16.25,"v":15.8},{"x":-16.25,"y":-16.25,"v":15.3},{"x":-13.75,"y":-16.25,"v":15.0},{"x":-11.25,"y":-16.25,"v":14.8},{"x":-8.75,"y":-16.25,"v":14.8},{"x":-6.25,"y":-16.25,"v":14.3},{"x":-3.75,"y":-16.25,"v":14.0},{"x":-1.25,"y":-16.25,"v":14.2},{"x":1.25,"y":-16.25,"v":15.5},{"x":3.75,"y":-16.25,"v":15.5},{"x":6.25,"y":-16.25,"v":14.2},{"x":8.75,"y":-16.25,"v":13.5},{"x":11.25,"y":-16.25,"v":13.2},{"x":13.75,"y":-16.25,"v":13.2},{"x":16.25,"y":-16.25,"v":13.8},{"x":18.75,"y":-16.25,"v":14.8},{"x":21.25,"y":-16.25,"v":15.8},{"x":23.75,"y":-16.25,"v":16.5},
{"x":-23.75,"y":-18.75,"v":17.0},{"x":-21.25,"y":-18.75,"v":16.5},{"x":-18.75,"y":-18.75,"v":16.0},{"x":-16.25,"y":-18.75,"v":15.5},{"x":-13.75,"y":-18.75,"v":15.2},{"x":-11.25,"y":-18.75,"v":15.0},{"x":-8.75,"y":-18.75,"v":15.0},{"x":-6.25,"y":-18.75,"v":14.8},{"x":-3.75,"y":-18.75,"v":14.5},{"x":-1.25,"y":-18.75,"v":14.2},{"x":1.25,"y":-18.75,"v":14.2},{"x":3.75,"y":-18.75,"v":14.0},{"x":6.25,"y":-18.75,"v":13.8},{"x":8.75,"y":-18.75,"v":13.8},{"x":11.25,"y":-18.75,"v":14.0},{"x":13.75,"y":-18.75,"v":14.2},{"x":16.25,"y":-18.75,"v":14.8},{"x":18.75,"y":-18.75,"v":15.5},{"x":21.25,"y":-18.75,"v":16.0},{"x":23.75,"y":-18.75,"v":16.5},
{"x":-23.75,"y":-21.25,"v":17.0},{"x":-21.25,"y":-21.25,"v":16.8},{"x":-18.75,"y":-21.25,"v":16.2},{"x":-16.25,"y":-21.25,"v":15.8},{"x":-13.75,"y":-21.25,"v":15.5},{"x":-11.25,"y":-21.25,"v":15.3},{"x":-8.75,"y":-21.25,"v":15.3},{"x":-6.25,"y":-21.25,"v":15.0},{"x":-3.75,"y":-21.25,"v":14.8},{"x":-1.25,"y":-21.25,"v":14.5},{"x":1.25,"y":-21.25,"v":14.5},{"x":3.75,"y":-21.25,"v":14.3},{"x":6.25,"y":-21.25,"v":14.3},{"x":8.75,"y":-21.25,"v":14.5},{"x":11.25,"y":-21.25,"v":14.8},{"x":13.75,"y":-21.25,"v":15.0},{"x":16.25,"y":-21.25,"v":15.5},{"x":18.75,"y":-21.25,"v":16.0},{"x":21.25,"y":-21.25,"v":16.3},{"x":23.75,"y":-21.25,"v":16.8},
{"x":-23.75,"y":-23.75,"v":17.0},{"x":-21.25,"y":-23.75,"v":16.8},{"x":-18.75,"y":-23.75,"v":16.5},{"x":-16.25,"y":-23.75,"v":16.0},{"x":-13.75,"y":-23.75,"v":15.8},{"x":-11.25,"y":-23.75,"v":15.5},{"x":-8.75,"y":-23.75,"v":15.5},{"x":-6.25,"y":-23.75,"v":15.2},{"x":-3.75,"y":-23.75,"v":15.0},{"x":-1.25,"y":-23.75,"v":14.8},{"x":1.25,"y":-23.75,"v":14.8},{"x":3.75,"y":-23.75,"v":14.8},{"x":6.25,"y":-23.75,"v":14.8},{"x":8.75,"y":-23.75,"v":15.0},{"x":11.25,"y":-23.75,"v":15.2},{"x":13.75,"y":-23.75,"v":15.5},{"x":16.25,"y":-23.75,"v":15.8},{"x":18.75,"y":-23.75,"v":16.2},{"x":21.25,"y":-23.75,"v":16.5},{"x":23.75,"y":-23.75,"v":17.0}
],
"mapLow": [
{"x":-23.75,"y":23.75,"v":42.5},{"x":-21.25,"y":23.75,"v":42.5},{"x":-18.75,"y":23.75,"v":42.8},{"x":-16.25,"y":23.75,"v":43.0},{"x":-13.75,"y":23.75,"v":43.5},{"x":-11.25,"y":23.75,"v":44.0},{"x":-8.75,"y":23.75,"v":44.3},{"x":-6.25,"y":23.75,"v":44.5},{"x":-3.75,"y":23.75,"v":44.5},{"x":-1.25,"y":23.75,"v":44.3},{"x":1.25,"y":23.75,"v":44.0},{"x":3.75,"y":23.75,"v":43.8},{"x":6.25,"y":23.75,"v":43.5},{"x":8.75,"y":23.75,"v":43.3},{"x":11.25,"y":23.75,"v":43.0},{"x":13.75,"y":23.75,"v":42.8},{"x":16.25,"y":23.75,"v":42.5},{"x":18.75,"y":23.75,"v":42.0},{"x":21.25,"y":23.75,"v":40.8},{"x":23.75,"y":23.75,"v":39.3},
{"x":-23.75,"y":21.25,"v":42.5},{"x":-21.25,"y":21.25,"v":42.3},{"x":-18.75,"y":21.25,"v":42.3},{"x":-16.25,"y":21.25,"v":42.8},{"x":-13.75,"y":21.25,"v":43.8},{"x":-11.25,"y":21.25,"v":44.8},{"x":-8.75,"y":21.25,"v":45.3},{"x":-6.25,"y":21.25,"v":45.5},{"x":-3.75,"y":21.25,"v":45.5},{"x":-1.25,"y":21.25,"v":45.3},{"x":1.25,"y":21.25,"v":45.0},{"x":3.75,"y":21.25,"v":44.5},{"x":6.25,"y":21.25,"v":44.0},{"x":8.75,"y":21.25,"v":43.8},{"x":11.25,"y":21.25,"v":43.5},{"x":13.75,"y":21.25,"v":43.3},{"x":16.25,"y":21.25,"v":43.0},{"x":18.75,"y":21.25,"v":42.8},{"x":21.25,"y":21.25,"v":42.0},{"x":23.75,"y":21.25,"v":40.8},
{"x":-23.75,"y":18.75,"v":42.8},{"x":-21.25,"y":18.75,"v":42.5},{"x":-18.75,"y":18.75,"v":42.5},{"x":-16.25,"y":18.75,"v":43.5},{"x":-13.75,"y":18.75,"v":45.0},{"x":-11.25,"y":18.75,"v":45.8},{"x":-8.75,"y":18.75,"v":46.0},{"x":-6.25,"y":18.75,"v":46.2},{"x":-3.75,"y":18.75,"v":46.0},{"x":-1.25,"y":18.75,"v":45.8},{"x":1.25,"y":18.75,"v":45.5},{"x":3.75,"y":18.75,"v":45.0},{"x":6.25,"y":18.75,"v":44.5},{"x":8.75,"y":18.75,"v":44.2},{"x":11.25,"y":18.75,"v":44.0},{"x":13.75,"y":18.75,"v":43.8},{"x":16.25,"y":18.75,"v":43.5},{"x":18.75,"y":18.75,"v":43.3},{"x":21.25,"y":18.75,"v":43.0},{"x":23.75,"y":18.75,"v":42.2},
{"x":-23.75,"y":16.25,"v":43.3},{"x":-21.25,"y":16.25,"v":43.3},{"x":-18.75,"y":16.25,"v":44.0},{"x":-16.25,"y":16.25,"v":45.0},{"x":-13.75,"y":16.25,"v":46.0},{"x":-11.25,"y":16.25,"v":46.3},{"x":-8.75,"y":16.25,"v":46.5},{"x":-6.25,"y":16.25,"v":46.5},{"x":-3.75,"y":16.25,"v":46.3},{"x":-1.25,"y":16.25,"v":46.0},{"x":1.25,"y":16.25,"v":45.6},{"x":3.75,"y":16.25,"v":45.2},{"x":6.25,"y":16.25,"v":44.8},{"x":8.75,"y":16.25,"v":44.5},{"x":11.25,"y":16.25,"v":44.3},{"x":13.75,"y":16.25,"v":44.0},{"x":16.25,"y":16.25,"v":43.8},{"x":18.75,"y":16.25,"v":43.8},{"x":21.25,"y":16.25,"v":43.5},{"x":23.75,"y":16.25,"v":43.2},
{"x":-23.75,"y":13.75,"v":44.0},{"x":-21.25,"y":13.75,"v":44.5},{"x":-18.75,"y":13.75,"v":45.5},{"x":-16.25,"y":13.75,"v":46.3},{"x":-13.75,"y":13.75,"v":46.8},{"x":-11.25,"y":13.75,"v":46.8},{"x":-8.75,"y":13.75,"v":46.8},{"x":-6.25,"y":13.75,"v":46.8},{"x":-3.75,"y":13.75,"v":46.5},{"x":-1.25,"y":13.75,"v":46.2},{"x":1.25,"y":13.75,"v":45.8},{"x":3.75,"y":13.75,"v":45.5},{"x":6.25,"y":13.75,"v":45.0},{"x":8.75,"y":13.75,"v":44.8},{"x":11.25,"y":13.75,"v":44.5},{"x":13.75,"y":13.75,"v":44.3},{"x":16.25,"y":13.75,"v":44.3},{"x":18.75,"y":13.75,"v":44.0},{"x":21.25,"y":13.75,"v":44.0},{"x":23.75,"y":13.75,"v":43.8},
{"x":-23.75,"y":11.25,"v":45.0},{"x":-21.25,"y":11.25,"v":45.8},{"x":-18.75,"y":11.25,"v":46.5},{"x":-16.25,"y":11.25,"v":46.8},{"x":-13.75,"y":11.25,"v":47.0},{"x":-11.25,"y":11.25,"v":47.0},{"x":-8.75,"y":11.25,"v":47.0},{"x":-6.25,"y":11.25,"v":47.0},{"x":-3.75,"y":11.25,"v":46.5},{"x":-1.25,"y":11.25,"v":46.3},{"x":1.25,"y":11.25,"v":46.0},{"x":3.75,"y":11.25,"v":45.5},{"x":6.25,"y":11.25,"v":45.2},{"x":8.75,"y":11.25,"v":45.0},{"x":11.25,"y":11.25,"v":44.8},{"x":13.75,"y":11.25,"v":44.5},{"x":16.25,"y":11.25,"v":44.5},{"x":18.75,"y":11.25,"v":44.3},{"x":21.25,"y":11.25,"v":44.3},{"x":23.75,"y":11.25,"v":44.0},
{"x":-23.75,"y":8.75,"v":45.8},{"x":-21.25,"y":8.75,"v":46.3},{"x":-18.75,"y":8.75,"v":46.8},{"x":-16.25,"y":8.75,"v":47.0},{"x":-13.75,"y":8.75,"v":47.0},{"x":-11.25,"y":8.75,"v":46.8},{"x":-8.75,"y":8.75,"v":46.8},{"x":-6.25,"y":8.75,"v":46.8},{"x":-3.75,"y":8.75,"v":46.5},{"x":-1.25,"y":8.75,"v":46.3},{"x":1.25,"y":8.75,"v":46.0},{"x":3.75,"y":8.75,"v":45.8},{"x":6.25,"y":8.75,"v":45.3},{"x":8.75,"y":8.75,"v":45.3},{"x":11.25,"y":8.75,"v":45.0},{"x":13.75,"y":8.75,"v":44.8},{"x":16.25,"y":8.75,"v":44.5},{"x":18.75,"y":8.75,"v":44.5},{"x":21.25,"y":8.75,"v":44.3},{"x":23.75,"y":8.75,"v":44.0},
{"x":-23.75,"y":6.25,"v":46.5},{"x":-21.25,"y":6.25,"v":46.8},{"x":-18.75,"y":6.25,"v":47.0},{"x":-16.25,"y":6.25,"v":47.0},{"x":-13.75,"y":6.25,"v":46.8},{"x":-11.25,"y":6.25,"v":46.5},{"x":-8.75,"y":6.25,"v":46.5},{"x":-6.25,"y":6.25,"v":46.5},{"x":-3.75,"y":6.25,"v":46.3},{"x":-1.25,"y":6.25,"v":46.2},{"x":1.25,"y":6.25,"v":46.0},{"x":3.75,"y":6.25,"v":45.8},{"x":6.25,"y":6.25,"v":45.5},{"x":8.75,"y":6.25,"v":45.5},{"x":11.25,"y":6.25,"v":45.5},{"x":13.75,"y":6.25,"v":45.0},{"x":16.25,"y":6.25,"v":44.8},{"x":18.75,"y":6.25,"v":44.5},{"x":21.25,"y":6.25,"v":44.3},{"x":23.75,"y":6.25,"v":44.0},
{"x":-23.75,"y":3.75,"v":47.0},{"x":-21.25,"y":3.75,"v":47.2},{"x":-18.75,"y":3.75,"v":47.0},{"x":-16.25,"y":3.75,"v":46.8},{"x":-13.75,"y":3.75,"v":46.5},{"x":-11.25,"y":3.75,"v":46.5},{"x":-8.75,"y":3.75,"v":46.3},{"x":-6.25,"y":3.75,"v":46.3},{"x":-3.75,"y":3.75,"v":46.2},{"x":-1.25,"y":3.75,"v":46.0},{"x":1.25,"y":3.75,"v":45.8},{"x":3.75,"y":3.75,"v":45.6},{"x":6.25,"y":3.75,"v":45.5},{"x":8.75,"y":3.75,"v":45.6},{"x":11.25,"y":3.75,"v":45.7},{"x":13.75,"y":3.75,"v":45.2},{"x":16.25,"y":3.75,"v":44.8},{"x":18.75,"y":3.75,"v":44.5},{"x":21.25,"y":3.75,"v":44.3},{"x":23.75,"y":3.75,"v":43.8},
{"x":-23.75,"y":1.25,"v":47.3},{"x":-21.25,"y":1.25,"v":47.3},{"x":-18.75,"y":1.25,"v":47.0},{"x":-16.25,"y":1.25,"v":46.8},{"x":-13.75,"y":1.25,"v":46.5},{"x":-11.25,"y":1.25,"v":46.5},{"x":-8.75,"y":1.25,"v":46.3},{"x":-6.25,"y":1.25,"v":46.2},{"x":-3.75,"y":1.25,"v":46.0},{"x":-1.25,"y":1.25,"v":45.8},{"x":1.25,"y":1.25,"v":45.6},{"x":3.75,"y":1.25,"v":45.5},{"x":6.25,"y":1.25,"v":45.3},{"x":8.75,"y":1.25,"v":45.3},{"x":11.25,"y":1.25,"v":45.3},{"x":13.75,"y":1.25,"v":45.0},{"x":16.25,"y":1.25,"v":44.6},{"x":18.75,"y":1.25,"v":44.4},{"x":21.25,"y":1.25,"v":44.2},{"x":23.75,"y":1.25,"v":43.8},
{"x":-23.75,"y":-1.25,"v":47.4},{"x":-21.25,"y":-1.25,"v":47.3},{"x":-18.75,"y":-1.25,"v":47.0},{"x":-16.25,"y":-1.25,"v":46.7},{"x":-13.75,"y":-1.25,"v":46.5},{"x":-11.25,"y":-1.25,"v":46.5},{"x":-8.75,"y":-1.25,"v":46.3},{"x":-6.25,"y":-1.25,"v":46.0},{"x":-3.75,"y":-1.25,"v":45.8},{"x":-1.25,"y":-1.25,"v":45.6},{"x":1.25,"y":-1.25,"v":45.4},{"x":3.75,"y":-1.25,"v":45.3},{"x":6.25,"y":-1.25,"v":45.0},{"x":8.75,"y":-1.25,"v":44.8},{"x":11.25,"y":-1.25,"v":44.8},{"x":13.75,"y":-1.25,"v":44.6},{"x":16.25,"y":-1.25,"v":44.4},{"x":18.75,"y":-1.25,"v":44.2},{"x":21.25,"y":-1.25,"v":44.0},{"x":23.75,"y":-1.25,"v":43.7},
{"x":-23.75,"y":-3.75,"v":47.2},{"x":-21.25,"y":-3.75,"v":47.0},{"x":-18.75,"y":-3.75,"v":46.8},{"x":-16.25,"y":-3.75,"v":46.5},{"x":-13.75,"y":-3.75,"v":46.3},{"x":-11.25,"y":-3.75,"v":46.3},{"x":-8.75,"y":-3.75,"v":46.2},{"x":-6.25,"y":-3.75,"v":46.0},{"x":-3.75,"y":-3.75,"v":45.7},{"x":-1.25,"y":-3.75,"v":45.5},{"x":1.25,"y":-3.75,"v":45.2},{"x":3.75,"y":-3.75,"v":45.0},{"x":6.25,"y":-3.75,"v":44.8},{"x":8.75,"y":-3.75,"v":44.5},{"x":11.25,"y":-3.75,"v":44.5},{"x":13.75,"y":-3.75,"v":44.5},{"x":16.25,"y":-3.75,"v":44.3},{"x":18.75,"y":-3.75,"v":44.0},{"x":21.25,"y":-3.75,"v":43.8},{"x":23.75,"y":-3.75,"v":43.5},
{"x":-23.75,"y":-6.25,"v":46.5},{"x":-21.25,"y":-6.25,"v":46.5},{"x":-18.75,"y":-6.25,"v":46.3},{"x":-16.25,"y":-6.25,"v":46.2},{"x":-13.75,"y":-6.25,"v":46.0},{"x":-11.25,"y":-6.25,"v":46.0},{"x":-8.75,"y":-6.25,"v":46.0},{"x":-6.25,"y":-6.25,"v":45.8},{"x":-3.75,"y":-6.25,"v":45.5},{"x":-1.25,"y":-6.25,"v":45.2},{"x":1.25,"y":-6.25,"v":45.0},{"x":3.75,"y":-6.25,"v":44.8},{"x":6.25,"y":-6.25,"v":44.5},{"x":8.75,"y":-6.25,"v":44.3},{"x":11.25,"y":-6.25,"v":44.2},{"x":13.75,"y":-6.25,"v":44.0},{"x":16.25,"y":-6.25,"v":44.0},{"x":18.75,"y":-6.25,"v":43.8},{"x":21.25,"y":-6.25,"v":43.5},{"x":23.75,"y":-6.25,"v":43.2},
{"x":-23.75,"y":-8.75,"v":45.8},{"x":-21.25,"y":-8.75,"v":45.8},{"x":-18.75,"y":-8.75,"v":45.8},{"x":-16.25,"y":-8.75,"v":45.6},{"x":-13.75,"y":-8.75,"v":45.5},{"x":-11.25,"y":-8.75,"v":45.5},{"x":-8.75,"y":-8.75,"v":45.6},{"x":-6.25,"y":-8.75,"v":45.5},{"x":-3.75,"y":-8.75,"v":45.2},{"x":-1.25,"y":-8.75,"v":45.0},{"x":1.25,"y":-8.75,"v":44.8},{"x":3.75,"y":-8.75,"v":44.5},{"x":6.25,"y":-8.75,"v":44.2},{"x":8.75,"y":-8.75,"v":44.0},{"x":11.25,"y":-8.75,"v":43.8},{"x":13.75,"y":-8.75,"v":43.7},{"x":16.25,"y":-8.75,"v":43.6},{"x":18.75,"y":-8.75,"v":43.5},{"x":21.25,"y":-8.75,"v":43.3},{"x":23.75,"y":-8.75,"v":43.0},
{"x":-23.75,"y":-11.25,"v":45.5},{"x":-21.25,"y":-11.25,"v":45.5},{"x":-18.75,"y":-11.25,"v":45.3},{"x":-16.25,"y":-11.25,"v":45.3},{"x":-13.75,"y":-11.25,"v":45.2},{"x":-11.25,"y":-11.25,"v":45.3},{"x":-8.75,"y":-11.25,"v":45.3},{"x":-6.25,"y":-11.25,"v":45.2},{"x":-3.75,"y":-11.25,"v":45.0},{"x":-1.25,"y":-11.25,"v":44.8},{"x":1.25,"y":-11.25,"v":44.5},{"x":3.75,"y":-11.25,"v":44.2},{"x":6.25,"y":-11.25,"v":43.8},{"x":8.75,"y":-11.25,"v":43.5},{"x":11.25,"y":-11.25,"v":43.5},{"x":13.75,"y":-11.25,"v":43.3},{"x":16.25,"y":-11.25,"v":43.2},{"x":18.75,"y":-11.25,"v":43.2},{"x":21.25,"y":-11.25,"v":43.0},{"x":23.75,"y":-11.25,"v":42.8},
{"x":-23.75,"y":-13.75,"v":45.3},{"x":-21.25,"y":-13.75,"v":45.2},{"x":-18.75,"y":-13.75,"v":45.0},{"x":-16.25,"y":-13.75,"v":45.0},{"x":-13.75,"y":-13.75,"v":45.0},{"x":-11.25,"y":-13.75,"v":44.8},{"x":-8.75,"y":-13.75,"v":44.8},{"x":-6.25,"y":-13.75,"v":44.8},{"x":-3.75,"y":-13.75,"v":44.8},{"x":-1.25,"y":-13.75,"v":44.5},{"x":1.25,"y":-13.75,"v":44.2},{"x":3.75,"y":-13.75,"v":43.8},{"x":6.25,"y":-13.75,"v":43.5},{"x":8.75,"y":-13.75,"v":43.2},{"x":11.25,"y":-13.75,"v":43.2},{"x":13.75,"y":-13.75,"v":43.0},{"x":16.25,"y":-13.75,"v":43.0},{"x":18.75,"y":-13.75,"v":42.8},{"x":21.25,"y":-13.75,"v":42.8},{"x":23.75,"y":-13.75,"v":42.5},
{"x":-23.75,"y":-16.25,"v":45.2},{"x":-21.25,"y":-16.25,"v":45.0},{"x":-18.75,"y":-16.25,"v":44.8},{"x":-16.25,"y":-16.25,"v":44.7},{"x":-13.75,"y":-16.25,"v":44.5},{"x":-11.25,"y":-16.25,"v":44.0},{"x":-8.75,"y":-16.25,"v":43.8},{"x":-6.25,"y":-16.25,"v":44.0},{"x":-3.75,"y":-16.25,"v":44.5},{"x":-1.25,"y":-16.25,"v":44.3},{"x":1.25,"y":-16.25,"v":44.0},{"x":3.75,"y":-16.25,"v":43.7},{"x":6.25,"y":-16.25,"v":43.3},{"x":8.75,"y":-16.25,"v":43.0},{"x":11.25,"y":-16.25,"v":43.0},{"x":13.75,"y":-16.25,"v":42.8},{"x":16.25,"y":-16.25,"v":42.7},{"x":18.75,"y":-16.25,"v":42.5},{"x":21.25,"y":-16.25,"v":42.5},{"x":23.75,"y":-16.25,"v":42.3},
{"x":-23.75,"y":-18.75,"v":45.0},{"x":-21.25,"y":-18.75,"v":44.8},{"x":-18.75,"y":-18.75,"v":44.6},{"x":-16.25,"y":-18.75,"v":44.4},{"x":-13.75,"y":-18.75,"v":44.0},{"x":-11.25,"y":-18.75,"v":43.0},{"x":-8.75,"y":-18.75,"v":42.3},{"x":-6.25,"y":-18.75,"v":43.0},{"x":-3.75,"y":-18.75,"v":44.2},{"x":-1.25,"y":-18.75,"v":44.2},{"x":1.25,"y":-18.75,"v":43.8},{"x":3.75,"y":-18.75,"v":43.5},{"x":6.25,"y":-18.75,"v":43.2},{"x":8.75,"y":-18.75,"v":42.8},{"x":11.25,"y":-18.75,"v":42.6},{"x":13.75,"y":-18.75,"v":42.5},{"x":16.25,"y":-18.75,"v":42.3},{"x":18.75,"y":-18.75,"v":42.3},{"x":21.25,"y":-18.75,"v":42.2},{"x":23.75,"y":-18.75,"v":42.0},
{"x":-23.75,"y":-21.25,"v":45.0},{"x":-21.25,"y":-21.25,"v":44.8},{"x":-18.75,"y":-21.25,"v":44.5},{"x":-16.25,"y":-21.25,"v":44.3},{"x":-13.75,"y":-21.25,"v":44.0},{"x":-11.25,"y":-21.25,"v":43.3},{"x":-8.75,"y":-21.25,"v":42.8},{"x":-6.25,"y":-21.25,"v":43.3},{"x":-3.75,"y":-21.25,"v":44.2},{"x":-1.25,"y":-21.25,"v":44.0},{"x":1.25,"y":-21.25,"v":43.7},{"x":3.75,"y":-21.25,"v":43.3},{"x":6.25,"y":-21.25,"v":43.0},{"x":8.75,"y":-21.25,"v":42.7},{"x":11.25,"y":-21.25,"v":42.5},{"x":13.75,"y":-21.25,"v":42.3},{"x":16.25,"y":-21.25,"v":42.2},{"x":18.75,"y":-21.25,"v":42.0},{"x":21.25,"y":-21.25,"v":42.0},{"x":23.75,"y":-21.25,"v":41.9},
{"x":-23.75,"y":-23.75,"v":45.0},{"x":-21.25,"y":-23.75,"v":44.8},{"x":-18.75,"y":-23.75,"v":44.6},{"x":-16.25,"y":-23.75,"v":44.3},{"x":-13.75,"y":-23.75,"v":44.2},{"x":-11.25,"y":-23.75,"v":44.0},{"x":-8.75,"y":-23.75,"v":43.8},{"x":-6.25,"y":-23.75,"v":44.0},{"x":-3.75,"y":-23.75,"v":44.3},{"x":-1.25,"y":-23.75,"v":44.0},{"x":1.25,"y":-23.75,"v":43.7},{"x":3.75,"y":-23.75,"v":43.3},{"x":6.25,"y":-23.75,"v":42.9},{"x":8.75,"y":-23.75,"v":42.6},{"x":11.25,"y":-23.75,"v":42.4},{"x":13.75,"y":-23.75,"v":42.2},{"x":16.25,"y":-23.75,"v":42.0},{"x":18.75,"y":-23.75,"v":41.9},{"x":21.25,"y":-23.75,"v":41.8},{"x":23.75,"y":-23.75,"v":41.8}
]
},
"resolve": {"scale": {"color": "independent", "strokeDash": "independent", "x": "independent", "y": "independent"}, "legend": {"color": "independent", "strokeDash": "independent"}},
"spacing": 20,
"vconcat": [
{
 "hconcat": [
  {
   "width": 376, "height": 307,
   "layer": [
    {
     "data": {"name": "decay"},
     "mark": {"type": "point", "shape": "circle", "filled": false, "strokeWidth": 1.6, "opacity": 1, "size": 42, "clip": true},
     "encoding": {
      "x": {"field": "t", "type": "quantitative", "title": "Time (ns)", "scale": {"domain": [-21, 453], "nice": false, "zero": false},
            "axis": {"values": [0, 100, 200, 300, 400], "labelExpr": "datum.value % 200 === 0 ? datum.label : ''", "tickSize": {"condition": {"test": "datum.value % 200 === 0", "value": 7}, "value": 4}}},
      "y": {"field": "I", "type": "quantitative", "title": "PL Intensity (a.u.)", "scale": {"type": "log", "domain": [0.0295, 1.98], "nice": false},
            "axis": {"values": [0.03, 0.04, 0.05, 0.06, 0.07, 0.08, 0.09, 0.1, 0.2, 0.3, 0.4, 0.5, 0.6, 0.7, 0.8, 0.9, 1], "labelExpr": "datum.value === 1 ? '1' : (datum.value === 0.1 ? '0.1' : '')", "tickSize": {"condition": {"test": "datum.value === 1 || datum.value === 0.1", "value": 7}, "value": 4}}},
      "color": {"field": "trace", "type": "nominal", "scale": {"domain": ["High-T", "Low-T"], "range": ["#FF8000", "#1AA3F0"]},
                "legend": {"orient": "none", "legendX": 248, "legendY": 8, "title": null, "labelFontSize": 26, "labelFontWeight": "bold", "labelOffset": 8, "rowPadding": 7, "symbolSize": 40, "symbolStrokeWidth": 1.8, "symbolType": "circle", "symbolFillColor": "transparent"}}
     }
    },
    {
     "data": {"name": "fit"},
     "mark": {"type": "line", "strokeWidth": 2.5, "interpolate": "monotone", "clip": true, "color": "black"},
     "encoding": {
      "x": {"field": "t", "type": "quantitative"},
      "y": {"field": "I", "type": "quantitative"},
      "strokeDash": {"field": "trace", "type": "nominal", "scale": {"domain": ["Fitting"], "range": [[1, 0]]},
                     "legend": {"orient": "none", "legendX": 243, "legendY": 69, "title": null, "labelFontSize": 26, "labelFontWeight": "bold", "labelOffset": 5, "symbolType": "stroke", "symbolSize": 1024, "symbolStrokeWidth": 2.4, "symbolStrokeColor": "black"}},
      "detail": {"field": "curve", "type": "nominal"}
     }
    },
    {
     "data": {"values": [{"t": 16, "I": 1.056, "label": "a"}]},
     "mark": {"type": "text", "font": "Open Sans", "fontWeight": "bold", "fontSize": 44, "align": "left", "baseline": "alphabetic", "color": "black"},
     "encoding": {"x": {"field": "t", "type": "quantitative"}, "y": {"field": "I", "type": "quantitative"}, "text": {"field": "label"}}
    }
   ]
  },
  {
   "width": 375, "height": 304,
   "layer": [
    {
     "data": {"name": "spec"},
     "mark": {"type": "line", "strokeWidth": 3, "interpolate": "monotone"},
     "encoding": {
      "x": {"field": "nm", "type": "quantitative", "title": "Wavelength (nm)", "scale": {"domain": [650, 900], "nice": false, "zero": false},
            "axis": {"values": [650, 675, 700, 725, 750, 775, 800, 825, 850, 875, 900], "labelExpr": "datum.value % 50 === 0 ? datum.label : ''", "tickSize": {"condition": {"test": "datum.value % 50 === 0", "value": 7}, "value": 4}}},
      "y": {"field": "PL", "type": "quantitative", "title": "PL Intensity (a. u.)", "scale": {"domain": [0, 1.1], "nice": false},
            "axis": {"values": [0, 0.25, 0.5, 0.75, 1], "labelExpr": "datum.value === 0 ? '0.0' : (datum.value === 0.5 ? '0.5' : (datum.value === 1 ? '1.0' : ''))", "tickSize": {"condition": {"test": "datum.value === 0 || datum.value === 0.5 || datum.value === 1", "value": 7}, "value": 4}}},
      "color": {"field": "sample", "type": "nominal", "scale": {"domain": ["High-T", "Low-T"], "range": ["#FF8000", "#00A5FF"]},
                "legend": {"orient": "none", "legendX": 242, "legendY": 6, "title": null, "symbolType": "stroke", "symbolSize": 1024, "symbolStrokeWidth": 4, "labelFontSize": 26, "labelFontWeight": "bold", "labelOffset": 6, "rowPadding": 1}}
     }
    },
    {
     "data": {"values": [{"nm": 663, "PL": 0.931, "label": "b"}]},
     "mark": {"type": "text", "font": "Open Sans", "fontWeight": "bold", "fontSize": 46, "align": "left", "baseline": "alphabetic", "color": "black"},
     "encoding": {"x": {"field": "nm", "type": "quantitative"}, "y": {"field": "PL", "type": "quantitative"}, "text": {"field": "label"}}
    }
   ]
  }
 ],
 "spacing": 107,
 "bounds": "flush",
 "resolve": {"scale": {"color": "independent", "x": "independent", "y": "independent"}, "legend": {"color": "independent"}}
},
{
 "hconcat": [
  {
   "width": 321, "height": 314,
   "layer": [
    {
     "data": {"name": "mapHigh"},
     "mark": {"type": "rect", "width": 16.8, "height": 16.4},
     "encoding": {
      "x": {"field": "x", "type": "quantitative", "title": "X (μm)", "scale": {"domain": [-25, 25], "nice": false, "zero": false},
            "axis": {"values": [-20, -15, -10, -5, 0, 5, 10, 15, 20], "labelExpr": "datum.value % 10 === 0 ? '' + datum.value : ''", "tickSize": {"condition": {"test": "datum.value % 10 === 0", "value": 7}, "value": 4}}},
      "y": {"field": "y", "type": "quantitative", "title": "Y (μm)", "scale": {"domain": [-25, 25], "nice": false, "zero": false},
            "axis": {"values": [-20, -15, -10, -5, 0, 5, 10, 15, 20], "labelExpr": "datum.value % 10 === 0 ? '' + datum.value : ''", "tickSize": {"condition": {"test": "datum.value % 10 === 0", "value": 7}, "value": 4}}},
      "color": {"field": "v", "type": "quantitative", "scale": {"domain": [11.5, 20.575, 29.65, 38.725, 47.8], "range": ["#0000ff", "#00ffff", "#00ff00", "#ffff00", "#ff0000"], "interpolate": "rgb"}, "legend": null}
     }
    },
    {
     "data": {"values": [{"x": -21.7, "y": 18.2, "label": "c"}, {"x": 6.0, "y": 18.2, "label": "High-T"}]},
     "mark": {"type": "text", "font": "Open Sans", "fontWeight": "bold", "fontSize": 37, "align": "left", "baseline": "alphabetic", "color": "white"},
     "encoding": {"x": {"field": "x", "type": "quantitative"}, "y": {"field": "y", "type": "quantitative"}, "text": {"field": "label"}}
    }
   ]
  },
  {
   "width": 303, "height": 314,
   "layer": [
    {
     "data": {"name": "mapLow"},
     "mark": {"type": "rect", "width": 15.9, "height": 16.4},
     "encoding": {
      "x": {"field": "x", "type": "quantitative", "title": "X (μm)", "scale": {"domain": [-25, 25], "nice": false, "zero": false},
            "axis": {"values": [-20, -15, -10, -5, 0, 5, 10, 15, 20], "labelExpr": "datum.value % 10 === 0 ? '' + datum.value : ''", "tickSize": {"condition": {"test": "datum.value % 10 === 0", "value": 7}, "value": 4}}},
      "y": {"field": "y", "type": "quantitative", "title": "Y (μm)", "scale": {"domain": [-25, 25], "nice": false, "zero": false},
            "axis": {"values": [-20, -15, -10, -5, 0, 5, 10, 15, 20], "labelExpr": "datum.value % 10 === 0 ? '' + datum.value : ''", "tickSize": {"condition": {"test": "datum.value % 10 === 0", "value": 7}, "value": 4}}},
      "color": {"field": "v", "type": "quantitative", "scale": {"domain": [11.5, 20.575, 29.65, 38.725, 47.8], "range": ["#0000ff", "#00ffff", "#00ff00", "#ffff00", "#ff0000"], "interpolate": "rgb"},
                "legend": {"orient": "none", "legendX": 348, "legendY": -24, "direction": "vertical", "title": "PL Intensity", "titleFontSize": 17, "titleFontWeight": "bold", "titlePadding": 14, "gradientLength": 300, "gradientThickness": 55, "gradientStrokeWidth": 0, "values": [11.5, 19.2, 26.8, 34.5, 42.2, 47.8], "labelExpr": "format(datum.value, '.1f') + 'k'", "labelFontSize": 17, "labelOffset": 6, "labelBaseline": "middle", "labelOverlap": false}}
     }
    },
    {
     "data": {"values": [{"x": -21.3, "y": 17.7, "label": "d"}, {"x": 5.4, "y": 17.7, "label": "Low-T"}]},
     "mark": {"type": "text", "font": "Open Sans", "fontWeight": "bold", "fontSize": 37, "align": "left", "baseline": "alphabetic", "color": "white"},
     "encoding": {"x": {"field": "x", "type": "quantitative"}, "y": {"field": "y", "type": "quantitative"}, "text": {"field": "label"}}
    }
   ]
  }
 ],
 "spacing": 77,
 "bounds": "flush",
 "resolve": {"scale": {"color": "independent", "x": "independent", "y": "independent"}, "legend": {"color": "independent"}}
}
]
}
